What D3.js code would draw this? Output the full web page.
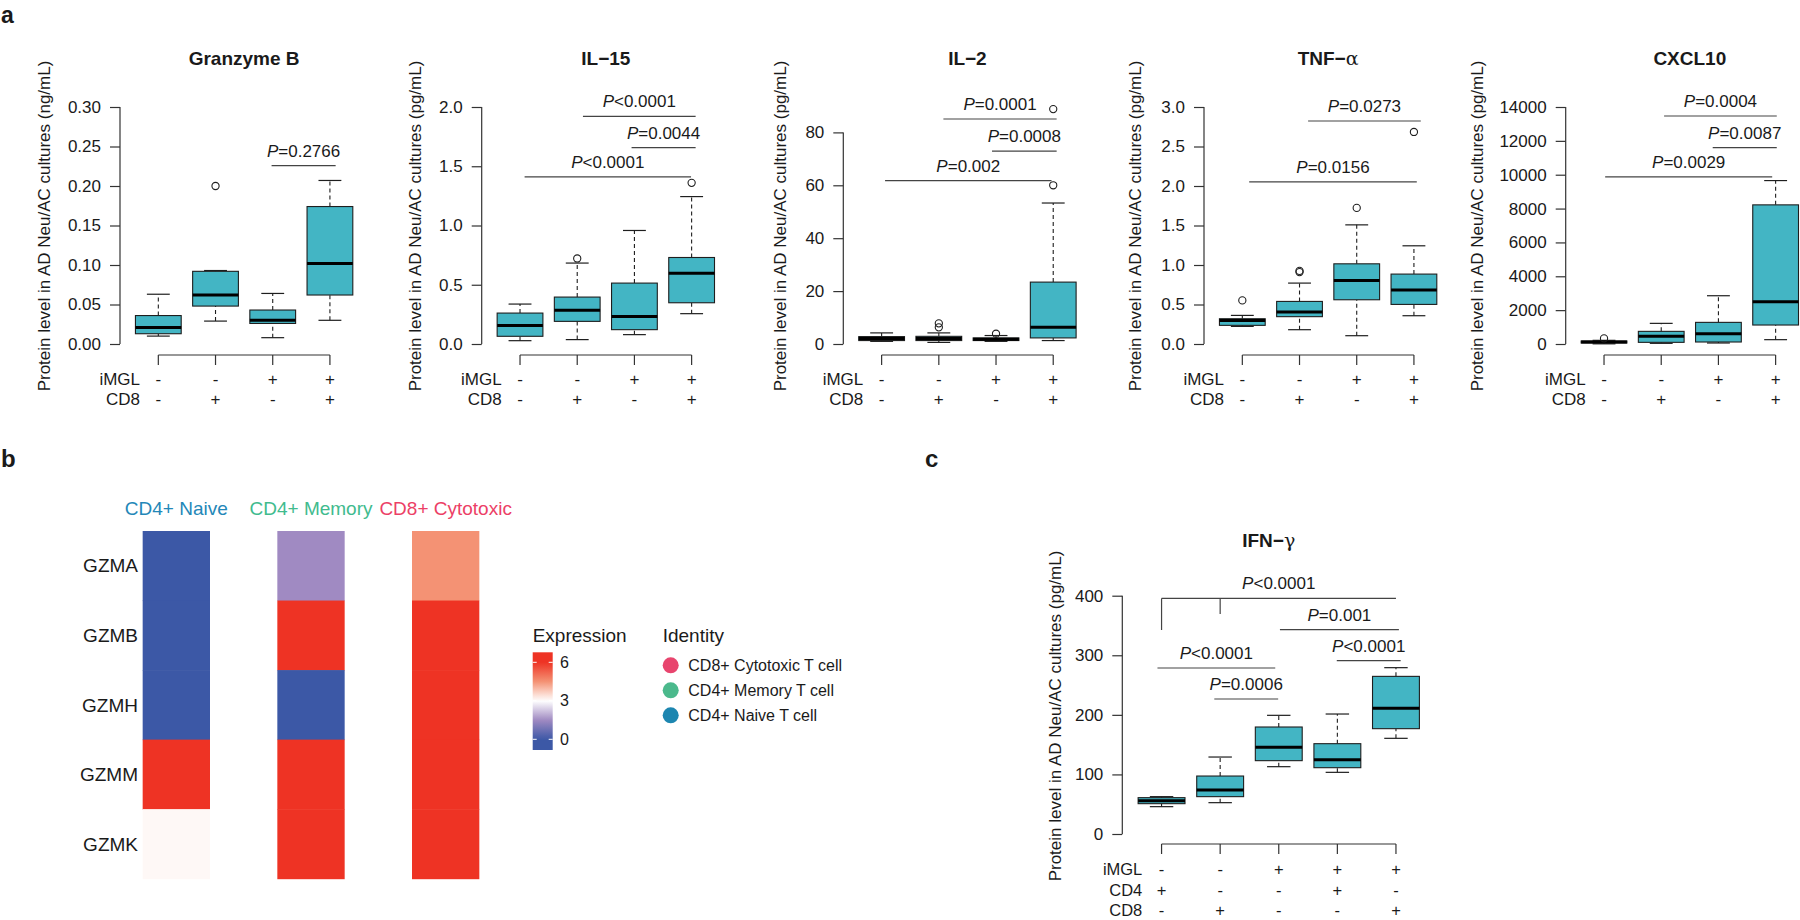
<!DOCTYPE html>
<html><head><meta charset="utf-8">
<script src="https://cdn.jsdelivr.net/npm/d3@7"></script>
<style>
body{margin:0;background:#fff}
svg{display:block}
text{font-family:"Liberation Sans",Arial,Helvetica,sans-serif;fill:#1a1a1a}
</style>
</head><body>
<svg id="chart" width="1800" height="920"></svg>
<script>
// ---------------- DATA ----------------
// Panel a
const titlesA = ["Granzyme B", "IL\u221215", "IL\u22122", "TNF\u2212", "CXCL10"];
const titleGreekA = ["", "", "", "\u03b1", ""];
const unitsA = ["ng/mL", "pg/mL", "pg/mL", "pg/mL", "pg/mL"];
const ticksA = [
  [0, 0.05, 0.10, 0.15, 0.20, 0.25, 0.30],
  [0, 0.5, 1.0, 1.5, 2.0],
  [0, 20, 40, 60, 80],
  [0, 0.5, 1.0, 1.5, 2.0, 2.5, 3.0],
  [0, 2000, 4000, 6000, 8000, 10000, 12000, 14000]
];
const tickFormatsA = [".2f", ".1f", "d", ".1f", "d"];
const yMaxA = [0.30, 2.0, 89.6, 3.0, 14000];
const factorLabelsA = ["iMGL", "CD8"];
const factorSignsA = [["-", "-", "+", "+"], ["-", "+", "-", "+"]];

// box stats: [whiskerLow, q1, median, q3, whiskerHigh]
const statsGranzymeB = [[0.010,0.013,0.021,0.036,0.063],[0.029,0.048,0.062,0.092,0.093],[0.008,0.026,0.030,0.043,0.064],[0.030,0.062,0.102,0.174,0.207]];
const statsIL15 = [[0.028,0.065,0.157,0.261,0.337],[0.037,0.191,0.284,0.396,0.683],[0.079,0.121,0.233,0.514,0.958],[0.256,0.348,0.596,0.730,1.244]];
const statsIL2 = [[1.0,1.3,2.1,2.8,4.2],[0.6,1.3,2.1,2.9,4.2],[1.0,1.3,1.8,2.3,3.2],[1.3,2.3,6.3,23.4,53.3]];
const statsTNF = [[0.223,0.236,0.299,0.320,0.362],[0.181,0.346,0.404,0.539,0.771],[0.105,0.560,0.805,1.015,1.508],[0.358,0.501,0.683,0.885,1.243]];
const statsCXCL10 = [[10,59,118,177,216],[39,98,452,747,1219],[59,118,610,1278,2851],[256,1121,2497,8219,9654]];

// outliers: [group, value]
const outGranzymeB = [[1,0.200]];
const outIL15 = [[1,0.722],[3,1.36]];
const outIL2 = [[1,6.3],[1,7.8],[2,3.9],[3,60.0],[3,88.8]];
const outTNF = [[0,0.552],[1,0.910],[1,0.925],[2,1.723],[3,2.684]];
const outCXCL10 = [[0,330]];

// brackets: [fromGroup, toGroup, value, operator, p]
const brGranzymeB = [[1.98,3.1,0.2258,"=","0.2766"]];
const brIL15 = [[1.1,3.07,1.921,"<","0.0001"],[1.95,3.07,1.657,"=","0.0044"],[0.08,2.99,1.410,"<","0.0001"]];
const brIL2 = [[1.08,3.06,85.06,"=","0.0001"],[1.93,3.06,72.9,"=","0.0008"],[0.06,2.97,61.8,"=","0.002"]];
const brTNF = [[1.15,3.12,2.823,"=","0.0273"],[0.12,3.05,2.052,"=","0.0156"]];
const brCXCL10 = [[1.05,3.02,13469,"=","0.0004"],[1.9,3.02,11601,"=","0.0087"],[0.02,2.94,9871,"=","0.0029"]];

const statsA = [statsGranzymeB, statsIL15, statsIL2, statsTNF, statsCXCL10];
const outliersA = [outGranzymeB, outIL15, outIL2, outTNF, outCXCL10];
const bracketsA = [brGranzymeB, brIL15, brIL2, brTNF, brCXCL10];

// Panel b heatmap
const heatGenes = ["GZMA", "GZMB", "GZMH", "GZMM", "GZMK"];
const heatCellTypes = ["CD4+ Naive", "CD4+ Memory", "CD8+ Cytotoxic"];
const heatValues = [
  [0, 0, 0, 6.3, 3.1],
  [1.5, 6.3, 0, 6.3, 6.3],
  [4.5, 6.3, 6.3, 6.3, 6.3]
];
const exprTicks = [0, 3, 6];
const identityLabels = ["CD8+ Cytotoxic T cell", "CD4+ Memory T cell", "CD4+ Naive T cell"];

// Panel c
const factorLabelsC = ["iMGL", "CD4", "CD8"];
const factorSignsC = [["-","-","+","+","+"],["+","-","-","+","-"],["-","+","-","-","+"]];
const statsIFNG = [[45.9,50.9,55.9,61.0,62.7],[52.6,62.7,73.8,97.3,129.2],[113.0,123.1,145.5,179.6,199.2],[103.5,111.3,124.8,151.6,201.4],[160.6,176.8,210.9,264.6,279.2]];
const outIFNG = [];
const brIFNG = [[0,4,395.5,"<","0.0001"],[2.02,4.05,342.9,"=","0.001"],[2.99,4.08,290.9,"<","0.0001"],[-0.07,1.94,278.6,"<","0.0001"],[0.9,1.99,226.6,"=","0.0006"]];
const dropsIFNG = [[0,395.5,342.4],[1,395.5,369.2]];
const ticksC = [0, 100, 200, 300, 400];

// ---------------- STYLE ----------------
const FILL = "#43b5c4";
const INK = "#1e1e1e";
const cellColors = {"CD4+ Naive":"#2387b8","CD4+ Memory":"#41bb8e","CD8+ Cytotoxic":"#ec3f66"};
const identityColors = ["#e8456e", "#4bb98c", "#1d86b0"];

const svg = d3.select("#chart");

function drawBoxPanel(cfg) {
  const g = svg.append("g");
  const n = cfg.stats.length;
  const x = d3.scaleLinear().domain([-0.67, n - 1 + 0.67]).range([cfg.axisX, cfg.axisX + cfg.step * (n - 1 + 1.34)]);
  const y = d3.scaleLinear().domain([0, cfg.yMax]).range([cfg.y0, cfg.yTop]);
  const bw = cfg.step * 0.8, cap = bw * 0.5;

  // y axis
  const ax = g.append("g").attr("transform", `translate(${cfg.axisX},0)`)
    .call(d3.axisLeft(y).tickValues(cfg.ticks).tickFormat(d3.format(cfg.fmt)).tickSize(10).tickPadding(9));
  ax.select(".domain").remove();
  ax.selectAll(".tick line").attr("stroke", "#333").attr("stroke-width", 1.2);
  ax.selectAll(".tick text").attr("font-size", 17).attr("fill", "#1a1a1a").attr("font-family", '"Liberation Sans",Arial,sans-serif');
  g.append("line").attr("x1", cfg.axisX).attr("x2", cfg.axisX)
    .attr("y1", y(cfg.ticks[0])).attr("y2", y(cfg.ticks[cfg.ticks.length - 1]))
    .attr("stroke", "#333").attr("stroke-width", 1.2);

  // y label
  g.append("text").attr("transform", `translate(${cfg.ylabX},${cfg.ylabY}) rotate(-90)`)
    .attr("text-anchor", "middle").attr("dy", "0.35em").attr("font-size", 17)
    .text(`Protein level in AD Neu/AC cultures (${cfg.unit})`);

  // title
  const t = g.append("text").attr("x", x((n - 1) / 2) + cfg.titleDx).attr("y", cfg.titleY)
    .attr("text-anchor", "middle").attr("font-size", 19).attr("font-weight", "bold");
  t.append("tspan").text(cfg.title);
  if (cfg.greek) t.append("tspan").attr("font-family", '"DejaVu Serif","Liberation Serif",serif').attr("font-weight", "normal").text(cfg.greek);

  // boxes
  cfg.stats.forEach((s, i) => {
    const cx = x(i);
    const bg = g.append("g");
    bg.append("line").attr("x1", cx).attr("x2", cx).attr("y1", y(s[0])).attr("y2", y(s[1]))
      .attr("stroke", INK).attr("stroke-width", 1.1).attr("stroke-dasharray", "4,3");
    bg.append("line").attr("x1", cx).attr("x2", cx).attr("y1", y(s[3])).attr("y2", y(s[4]))
      .attr("stroke", INK).attr("stroke-width", 1.1).attr("stroke-dasharray", "4,3");
    bg.append("line").attr("x1", cx - cap / 2).attr("x2", cx + cap / 2).attr("y1", y(s[0])).attr("y2", y(s[0]))
      .attr("stroke", INK).attr("stroke-width", 1.2);
    bg.append("line").attr("x1", cx - cap / 2).attr("x2", cx + cap / 2).attr("y1", y(s[4])).attr("y2", y(s[4]))
      .attr("stroke", INK).attr("stroke-width", 1.2);
    bg.append("rect").attr("x", cx - bw / 2).attr("width", bw).attr("y", y(s[3])).attr("height", y(s[1]) - y(s[3]))
      .attr("fill", FILL).attr("stroke", INK).attr("stroke-width", 1.1);
    bg.append("line").attr("x1", cx - bw / 2).attr("x2", cx + bw / 2).attr("y1", y(s[2])).attr("y2", y(s[2]))
      .attr("stroke", "#000").attr("stroke-width", 3);
  });
  cfg.outliers.forEach(o => {
    g.append("circle").attr("cx", x(o[0])).attr("cy", y(o[1])).attr("r", 3.6)
      .attr("fill", "none").attr("stroke", INK).attr("stroke-width", 1.1);
  });

  // brackets
  cfg.brackets.forEach(b => {
    const yy = y(b[2]);
    g.append("line").attr("x1", x(b[0])).attr("x2", x(b[1])).attr("y1", yy).attr("y2", yy)
      .attr("stroke", "#444").attr("stroke-width", 1.2);
    const tt = g.append("text").attr("x", (x(b[0]) + x(b[1])) / 2).attr("y", yy - 9)
      .attr("text-anchor", "middle").attr("font-size", 17);
    tt.append("tspan").attr("font-style", "italic").text("P");
    tt.append("tspan").text(b[3] + b[4]);
  });
  (cfg.drops || []).forEach(d => {
    g.append("line").attr("x1", x(d[0])).attr("x2", x(d[0])).attr("y1", y(d[1])).attr("y2", y(d[2]))
      .attr("stroke", "#444").attr("stroke-width", 1.2);
  });

  // group bracket axis
  g.append("line").attr("x1", x(0)).attr("x2", x(n - 1)).attr("y1", cfg.gAxisY).attr("y2", cfg.gAxisY)
    .attr("stroke", "#333").attr("stroke-width", 1.2);
  d3.range(n).forEach(i => {
    g.append("line").attr("x1", x(i)).attr("x2", x(i)).attr("y1", cfg.gAxisY).attr("y2", cfg.gAxisY + 10)
      .attr("stroke", "#333").attr("stroke-width", 1.2);
  });
  // factor rows
  cfg.factorLabels.forEach((lab, r) => {
    const yy = cfg.rowY0 + r * cfg.rowStep;
    g.append("text").attr("x", cfg.axisX + 20).attr("y", yy).attr("dy", "0.35em")
      .attr("text-anchor", "end").attr("font-size", cfg.rowFont).text(lab);
    cfg.factorSigns[r].forEach((sg, i) => {
      g.append("text").attr("x", x(i)).attr("y", yy).attr("dy", "0.35em")
        .attr("text-anchor", "middle").attr("font-size", cfg.rowFont).text(sg);
    });
  });
}

// Panel a layout
const axisXA = [120, 481.7, 843.3, 1204, 1565.7];
const ylabXA = [44, 415, 780, 1135, 1477];
const titleDxA = [0, 0, 0, 0, 0];
titlesA.forEach((title, i) => {
  drawBoxPanel({
    axisX: axisXA[i], step: 57.2, y0: 344, yTop: 107, yMax: yMaxA[i],
    ticks: ticksA[i], fmt: tickFormatsA[i], stats: statsA[i], outliers: outliersA[i],
    brackets: bracketsA[i], title: title, greek: titleGreekA[i], titleY: 65, titleDx: titleDxA[i],
    unit: unitsA[i], ylabX: ylabXA[i], ylabY: 226,
    gAxisY: 355, factorLabels: factorLabelsA, factorSigns: factorSignsA, rowY0: 379, rowStep: 20, rowFont: 17
  });
});

// Panel c
drawBoxPanel({
  axisX: 1122.3, step: 58.6, y0: 834, yTop: 595.7, yMax: 400,
  ticks: ticksC, fmt: "d", stats: statsIFNG, outliers: outIFNG,
  brackets: brIFNG, drops: dropsIFNG, title: "IFN\u2212", greek: "\u03b3", titleY: 547, titleDx: -10,
  unit: "pg/mL", ylabX: 1055, ylabY: 716,
  gAxisY: 844, factorLabels: factorLabelsC, factorSigns: factorSignsC, rowY0: 869.5, rowStep: 20.5, rowFont: 16.5
});

// Panel b heatmap
const color = d3.scaleLinear().domain([0, 1.5, 3, 4.5, 6])
  .range(["#3c58a6", "#a08ac2", "#ffffff", "#f49274", "#ee3324"]).clamp(true);
const hx = d3.scaleBand().domain(heatCellTypes).range([109, 513]).paddingInner(0.5).paddingOuter(0.25);
const hy = d3.scaleBand().domain(heatGenes).range([531, 878.7]);
const hb = svg.append("g");
heatCellTypes.forEach((ct, ci) => {
  heatGenes.forEach((gn, gi) => {
    hb.append("rect").attr("x", hx(ct)).attr("y", hy(gn)).attr("width", hx.bandwidth()).attr("height", hy.bandwidth() + 0.5)
      .attr("fill", color(heatValues[ci][gi]));
  });
  hb.append("text").attr("x", hx(ct) + hx.bandwidth() / 2).attr("y", 508).attr("dy", "0.35em")
    .attr("text-anchor", "middle").attr("font-size", 19).style("fill", cellColors[ct]).text(ct);
});
heatGenes.forEach(gn => {
  hb.append("text").attr("x", 138).attr("y", hy(gn) + hy.bandwidth() / 2).attr("dy", "0.35em")
    .attr("text-anchor", "end").attr("font-size", 19).text(gn);
});

// Expression legend
const ly = d3.scaleLinear().domain([0, 6]).range([739.3, 662.3]);
const defs = svg.append("defs");
const grad = defs.append("linearGradient").attr("id", "exprGrad").attr("x1", 0).attr("y1", 1).attr("x2", 0).attr("y2", 0);
const gLo = ly.invert(750), gHi = ly.invert(652.3);
d3.range(0, 21).forEach(k => {
  const v = gLo + (gHi - gLo) * k / 20;
  grad.append("stop").attr("offset", (k / 20 * 100) + "%").attr("stop-color", color(v));
});
svg.append("text").attr("x", 532.7).attr("y", 635).attr("dy", "0.35em").attr("font-size", 19).text("Expression");
svg.append("rect").attr("x", 532.7).attr("y", ly(gHi)).attr("width", 20).attr("height", ly(gLo) - ly(gHi)).attr("fill", "url(#exprGrad)");
exprTicks.forEach(v => {
  svg.append("line").attr("x1", 532.7).attr("x2", 536.7).attr("y1", ly(v)).attr("y2", ly(v)).attr("stroke", "#fff").attr("stroke-width", 1);
  svg.append("line").attr("x1", 548.7).attr("x2", 552.7).attr("y1", ly(v)).attr("y2", ly(v)).attr("stroke", "#fff").attr("stroke-width", 1);
  svg.append("text").attr("x", 560).attr("y", ly(v)).attr("dy", "0.35em").attr("font-size", 16).text(v);
});

// Identity legend
svg.append("text").attr("x", 662.7).attr("y", 635).attr("dy", "0.35em").attr("font-size", 19).text("Identity");
const idY = d3.scalePoint().domain(identityLabels).range([665.3, 715.3]);
identityLabels.forEach((lab, i) => {
  svg.append("circle").attr("cx", 670.7).attr("cy", idY(lab)).attr("r", 8).attr("fill", identityColors[i]);
  svg.append("text").attr("x", 688.3).attr("y", idY(lab)).attr("dy", "0.35em").attr("font-size", 16).text(lab);
});

// panel letters
svg.append("text").attr("x", 1).attr("y", 23).attr("font-size", 23).attr("font-weight", "bold").text("a");
svg.append("text").attr("x", 1).attr("y", 467).attr("font-size", 24).attr("font-weight", "bold").text("b");
svg.append("text").attr("x", 925).attr("y", 467).attr("font-size", 24).attr("font-weight", "bold").text("c");
</script>
</body></html>
